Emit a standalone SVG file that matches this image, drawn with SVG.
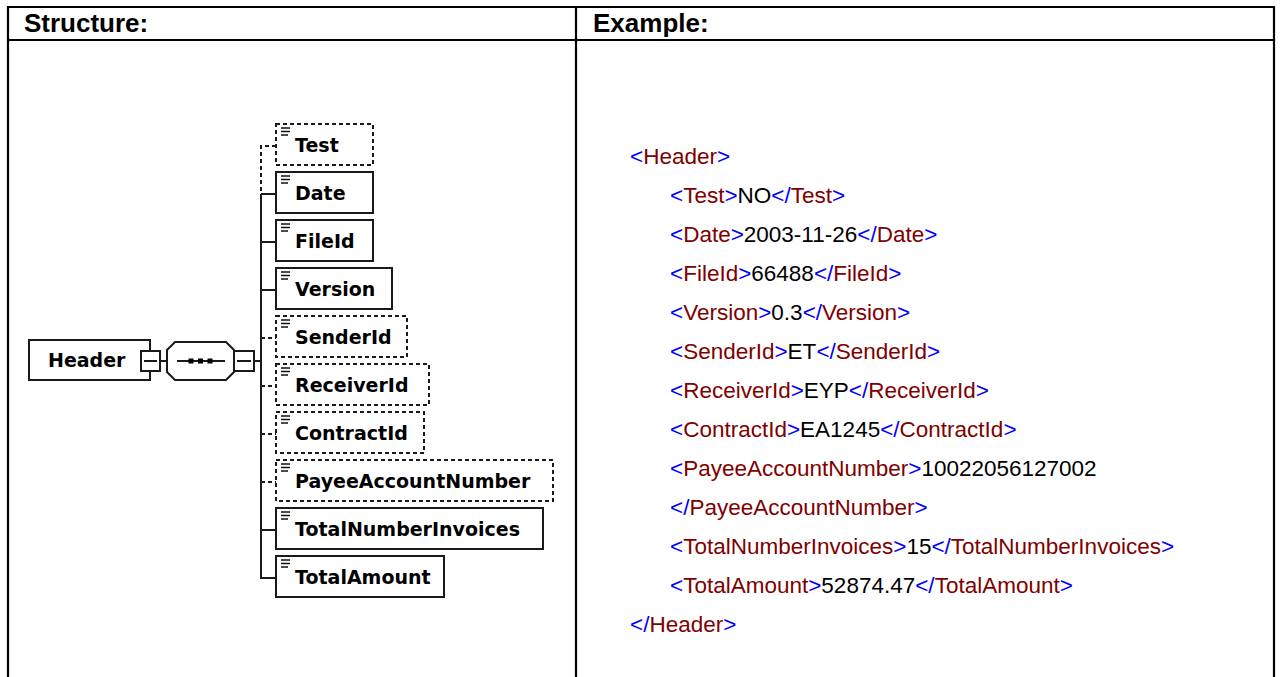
<svg xmlns="http://www.w3.org/2000/svg" width="1280" height="677" viewBox="0 0 1280 677">
<style>
.tbl{stroke:#000;stroke-width:2.2;fill:none}
.hd{font-family:"Liberation Sans",Arial,sans-serif;font-weight:bold;font-size:26px;fill:#000}
.el{fill:#fff;stroke:#1a1a1a;stroke-width:2}
.opt{stroke-dasharray:4 3}
.lbl{font-family:"DejaVu Sans",Verdana,sans-serif;font-weight:bold;font-size:19px;fill:#000}
.ico{stroke:#111;stroke-width:1.5}
.ln{stroke:#1a1a1a;stroke-width:2;fill:none}
.x{font-family:"Liberation Sans",Arial,sans-serif;font-size:22.5px}
.b{fill:#0000ff}
.r{fill:#800000}
.k{fill:#000}
</style>
<defs>
<g id="icon"><path class="ico" d="M5 4h9M5 7.5h9M5 11h7"/></g>
</defs>
<rect width="1280" height="677" fill="#fff"/>
<!-- table -->
<g id="table">
<path class="tbl" d="M8 677V7H1274V677M8 40H1274M576 7V677"/>
<text class="hd" x="24" y="31.5">Structure:</text>
<text class="hd" x="593" y="31.5">Example:</text>
</g>
<!-- connectors -->
<g id="connectors">
<path class="ln" d="M160 361H167M254 361H261"/>
<path class="ln" d="M261 194V578H276"/>
<path class="ln opt" d="M276 146H261V194"/>
<path class="ln" d="M261 194H276M261 242H276M261 290H276M261 530H276"/>
<path class="ln opt" d="M261 338H276M261 386H276M261 434H276M261 482H276"/>
</g>
<g id="node-Header">
<rect class="el" x="29" y="340" width="121" height="40"/>
<text class="lbl" x="48" y="367">Header</text>
<rect class="el" x="141" y="351" width="19" height="20"/>
<path class="ln" d="M144 361H157"/>
</g>
<g id="node-sequence">
<polygon class="el" points="167,350 175,342 226,342 234,350 234,372 226,380 175,380 167,372"/>
<path class="ln" d="M177 361H225"/>
<rect x="188.5" y="358.5" width="5" height="5" fill="#000"/>
<rect x="198" y="358.5" width="5" height="5" fill="#000"/>
<rect x="207.5" y="358.5" width="5" height="5" fill="#000"/>
<rect class="el" x="234" y="351" width="20" height="20"/>
<path class="ln" d="M237 361H251"/>
</g>
<g id="node-Test"><rect class="el opt" x="276" y="124" width="97" height="41"/><use href="#icon" x="276" y="124"/><text class="lbl" x="295" y="151.5">Test</text></g>
<g id="node-Date"><rect class="el" x="276" y="172" width="97" height="41"/><use href="#icon" x="276" y="172"/><text class="lbl" x="295" y="199.5">Date</text></g>
<g id="node-FileId"><rect class="el" x="276" y="220" width="97" height="41"/><use href="#icon" x="276" y="220"/><text class="lbl" x="295" y="247.5">FileId</text></g>
<g id="node-Version"><rect class="el" x="276" y="268" width="116" height="41"/><use href="#icon" x="276" y="268"/><text class="lbl" x="295" y="295.5">Version</text></g>
<g id="node-SenderId"><rect class="el opt" x="276" y="316" width="131" height="41"/><use href="#icon" x="276" y="316"/><text class="lbl" x="295" y="343.5">SenderId</text></g>
<g id="node-ReceiverId"><rect class="el opt" x="276" y="364" width="153" height="41"/><use href="#icon" x="276" y="364"/><text class="lbl" x="295" y="391.5">ReceiverId</text></g>
<g id="node-ContractId"><rect class="el opt" x="276" y="412" width="148" height="41"/><use href="#icon" x="276" y="412"/><text class="lbl" x="295" y="439.5">ContractId</text></g>
<g id="node-PayeeAccountNumber"><rect class="el opt" x="276" y="460" width="277" height="41"/><use href="#icon" x="276" y="460"/><text class="lbl" x="295" y="487.5">PayeeAccountNumber</text></g>
<g id="node-TotalNumberInvoices"><rect class="el" x="276" y="508" width="267" height="41"/><use href="#icon" x="276" y="508"/><text class="lbl" x="295" y="535.5">TotalNumberInvoices</text></g>
<g id="node-TotalAmount"><rect class="el" x="276" y="556" width="168" height="41"/><use href="#icon" x="276" y="556"/><text class="lbl" x="295" y="583.5">TotalAmount</text></g>
<!-- example -->
<g id="example" class="x">
<text x="630" y="164"><tspan class="b">&lt;</tspan><tspan class="r">Header</tspan><tspan class="b">&gt;</tspan></text>
<text x="670" y="203"><tspan class="b">&lt;</tspan><tspan class="r">Test</tspan><tspan class="b">&gt;</tspan><tspan class="k">NO</tspan><tspan class="b">&lt;/</tspan><tspan class="r">Test</tspan><tspan class="b">&gt;</tspan></text>
<text x="670" y="242"><tspan class="b">&lt;</tspan><tspan class="r">Date</tspan><tspan class="b">&gt;</tspan><tspan class="k">2003-11-26</tspan><tspan class="b">&lt;/</tspan><tspan class="r">Date</tspan><tspan class="b">&gt;</tspan></text>
<text x="670" y="281"><tspan class="b">&lt;</tspan><tspan class="r">FileId</tspan><tspan class="b">&gt;</tspan><tspan class="k">66488</tspan><tspan class="b">&lt;/</tspan><tspan class="r">FileId</tspan><tspan class="b">&gt;</tspan></text>
<text x="670" y="320"><tspan class="b">&lt;</tspan><tspan class="r">Version</tspan><tspan class="b">&gt;</tspan><tspan class="k">0.3</tspan><tspan class="b">&lt;/</tspan><tspan class="r">Version</tspan><tspan class="b">&gt;</tspan></text>
<text x="670" y="359"><tspan class="b">&lt;</tspan><tspan class="r">SenderId</tspan><tspan class="b">&gt;</tspan><tspan class="k">ET</tspan><tspan class="b">&lt;/</tspan><tspan class="r">SenderId</tspan><tspan class="b">&gt;</tspan></text>
<text x="670" y="398"><tspan class="b">&lt;</tspan><tspan class="r">ReceiverId</tspan><tspan class="b">&gt;</tspan><tspan class="k">EYP</tspan><tspan class="b">&lt;/</tspan><tspan class="r">ReceiverId</tspan><tspan class="b">&gt;</tspan></text>
<text x="670" y="437"><tspan class="b">&lt;</tspan><tspan class="r">ContractId</tspan><tspan class="b">&gt;</tspan><tspan class="k">EA1245</tspan><tspan class="b">&lt;/</tspan><tspan class="r">ContractId</tspan><tspan class="b">&gt;</tspan></text>
<text x="670" y="476"><tspan class="b">&lt;</tspan><tspan class="r">PayeeAccountNumber</tspan><tspan class="b">&gt;</tspan><tspan class="k">10022056127002</tspan></text>
<text x="670" y="515"><tspan class="b">&lt;/</tspan><tspan class="r">PayeeAccountNumber</tspan><tspan class="b">&gt;</tspan></text>
<text x="670" y="554"><tspan class="b">&lt;</tspan><tspan class="r">TotalNumberInvoices</tspan><tspan class="b">&gt;</tspan><tspan class="k">15</tspan><tspan class="b">&lt;/</tspan><tspan class="r">TotalNumberInvoices</tspan><tspan class="b">&gt;</tspan></text>
<text x="670" y="593"><tspan class="b">&lt;</tspan><tspan class="r">TotalAmount</tspan><tspan class="b">&gt;</tspan><tspan class="k">52874.47</tspan><tspan class="b">&lt;/</tspan><tspan class="r">TotalAmount</tspan><tspan class="b">&gt;</tspan></text>
<text x="630" y="632"><tspan class="b">&lt;/</tspan><tspan class="r">Header</tspan><tspan class="b">&gt;</tspan></text>
</g>
</svg>
